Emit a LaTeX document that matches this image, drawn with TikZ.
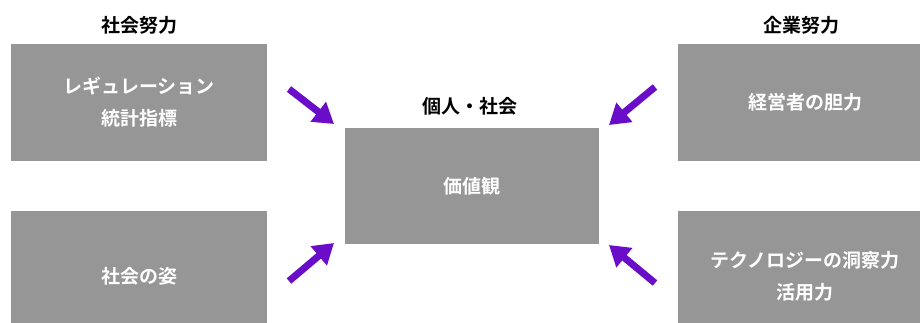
\documentclass[tikz,border=0pt]{standalone}
\usepackage{fontspec}
\newfontfamily\cjk{Noto Sans CJK JP}[BoldFont={* Bold}]
\usetikzlibrary{arrows.meta}
\definecolor{boxgray}{HTML}{969696}
\definecolor{arrowpurple}{HTML}{6A0DC8}
\tikzset{
  graybox/.style={fill=boxgray, draw=none, text=white, font=\cjk\bfseries\fontsize{19}{32}\selectfont, align=center, inner sep=0pt},
  title/.style={text=black, font=\cjk\bfseries\fontsize{19}{22}\selectfont, inner sep=0pt},
  bigarrow/.style={draw=arrowpurple, line width=7pt, -{Triangle[width=24pt,length=20pt]}}
}
\begin{document}
\begin{tikzpicture}[x=1pt,y=-1pt]
\useasboundingbox (0,0) rectangle (920,322);
\clip (0,0) rectangle (920,322);
\fill[white] (0,0) rectangle (920,322);
\node[graybox, minimum width=256pt, minimum height=117pt] (lt) at (139,102.5) {レギュレーション\\統計指標};
\node[graybox, minimum width=256pt, minimum height=130pt] (lb) at (139,276) {社会の姿};
\node[graybox, minimum width=254pt, minimum height=116pt] (c) at (472,186) {価値観};
\node[graybox, minimum width=254pt, minimum height=117pt] (rt) at (805,102.5) {経営者の胆力};
\node[graybox, minimum width=254pt, minimum height=130pt] (rb) at (805,276) {テクノロジーの洞察力\\活用力};
\node[title] (tl) at (139,25) {社会努力};
\node[title] (tr) at (801,25) {企業努力};
\node[title] (tc) at (470,106) {個人・社会};
\coordinate (a1s) at (289,89);
\coordinate (a1e) at (334,124);
\coordinate (a2s) at (289,281);
\coordinate (a2e) at (334,243);
\coordinate (a3s) at (655,87);
\coordinate (a3e) at (609,125);
\coordinate (a4s) at (655,283);
\coordinate (a4e) at (609,245);
\draw[bigarrow] (a1s) -- (a1e);
\draw[bigarrow] (a2s) -- (a2e);
\draw[bigarrow] (a3s) -- (a3e);
\draw[bigarrow] (a4s) -- (a4e);
\end{tikzpicture}
\end{document}
